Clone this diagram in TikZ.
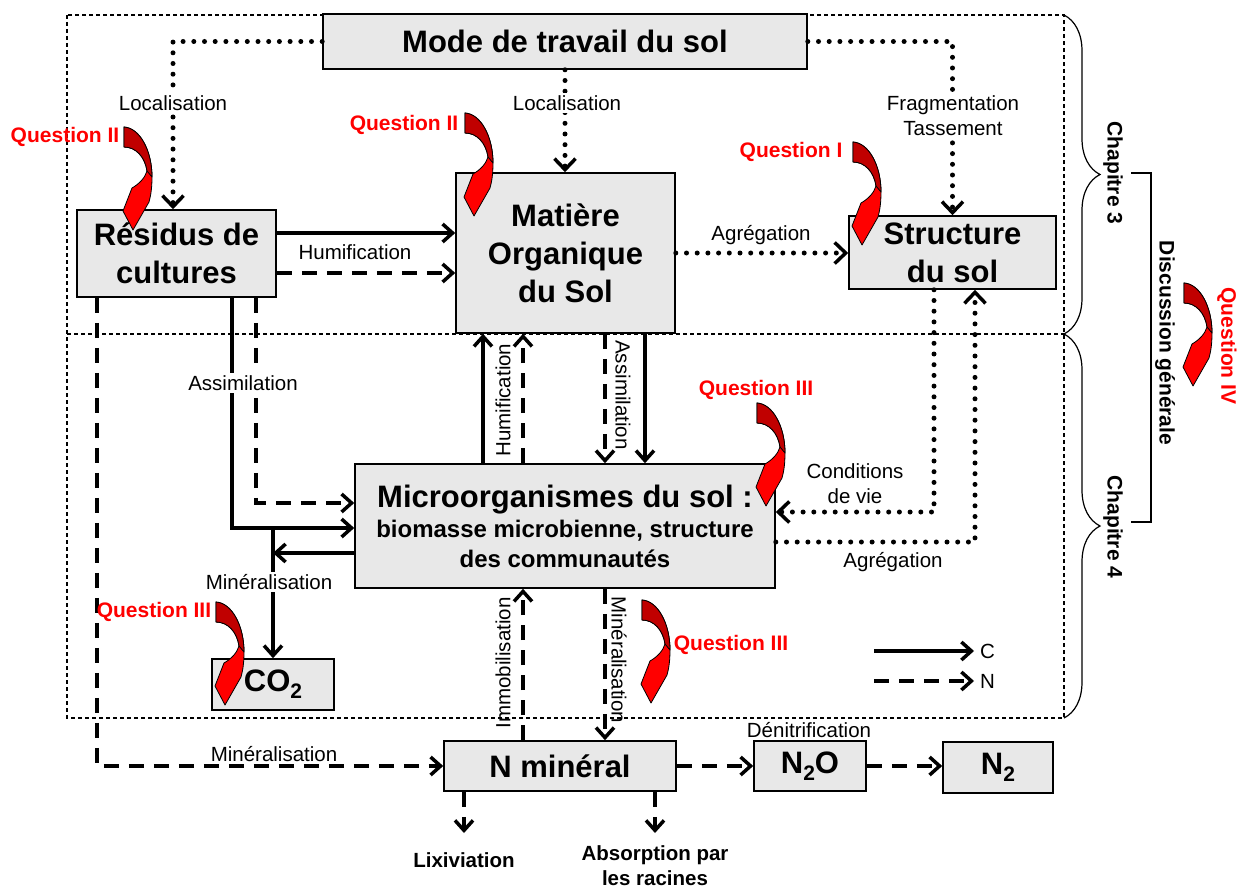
\documentclass[tikz,border=0pt]{standalone}
\usepackage{fontspec}
\setmainfont{Liberation Sans}
\usetikzlibrary{arrows.meta,decorations.pathreplacing}
\definecolor{boxgray}{RGB}{232,232,232}
\definecolor{qdark}{RGB}{192,0,0}
\definecolor{qbright}{RGB}{255,0,0}

\tikzset{
  every node/.style={inner sep=0pt},
  box/.style={draw=black, line width=1.6pt, fill=boxgray, align=center,
              font=\bfseries\fontsize{31}{38}\selectfont},
  barb/.tip={Straight Barb[length=10pt,width=18pt,line width=3.5pt]},
  dbarb/.tip={Straight Barb[length=11pt,width=21pt,line width=3.5pt]},
  cflow/.style={line width=3.5pt, -barb},
  nflow/.style={line width=3.5pt, dash pattern=on 15pt off 10pt, -barb},
  dflow/.style={line width=5pt, line cap=round, dash pattern=on 0pt off 10.7pt, -dbarb},
  lbl/.style={font=\fontsize{20.5}{25}\selectfont, align=center},
  blbl/.style={font=\bfseries\fontsize{20.5}{25}\selectfont, align=center},
  qlbl/.style={font=\bfseries\fontsize{21}{25}\selectfont, text=qbright},
  frame/.style={line width=1.2pt, dash pattern=on 4pt off 3pt},
  chap/.style={font=\bfseries\fontsize{21}{25}\selectfont},
  % curved red arrow marking a research question
  qarrow/.pic={
    \path[fill=qbright, draw=black, line width=0.8pt, line join=round]
      (0,0) .. controls (16,1) and (28,24) .. (28,50)
      .. controls (28,60) and (27,68) .. (25,75)
      -- (9,103) -- (-1,84) -- (8,61)
      .. controls (15,57) and (21,51) .. (23,44)
      .. controls (21,30) and (12,20) .. (0,20) -- cycle;
    \path[fill=qdark, draw=black, line width=0.8pt, line join=round]
      (0,0) .. controls (16,1) and (28,24) .. (28,50)
      -- (23,44)
      .. controls (21,30) and (12,20) .. (0,20) -- cycle;
  },
}

\begin{document}
\begin{tikzpicture}[x=1pt,y=-1pt]
\useasboundingbox (0,0) rectangle (1250,888);

% chapter frames
\draw[frame] (67,15) rectangle (1064,718);
\draw[frame] (67,334) -- (1064,334);

% boxes
\node[box, minimum width=484pt, minimum height=55pt] (mode) at (565,41.5) {Mode de travail du sol};
\node[box, minimum width=199pt, minimum height=87pt] (res) at (176.5,253.5) {Résidus de\\cultures};
\node[box, minimum width=219pt, minimum height=160pt] (mos) at (565.5,253) {Matière\\Organique\\du Sol};
\node[box, minimum width=207pt, minimum height=73pt] (struct) at (952.5,252.5) {Structure\\du sol};
\node[box, minimum width=420pt, minimum height=124pt, font=\bfseries\fontsize{24}{30}\selectfont] (micro) at (565,526)
  {{\fontsize{31}{30}\selectfont Microorganismes du sol :}\\biomasse microbienne, structure\\des communautés};
\node[box, minimum width=122pt, minimum height=51pt] (co2) at (273,684.5) {CO\raisebox{-7pt}{\fontsize{21}{21}\selectfont 2}};
\node[box, minimum width=232pt, minimum height=50pt] (nmin) at (560,766) {N minéral};
\node[box, minimum width=112pt, minimum height=50pt] (n2o) at (810,766) {N\raisebox{-7pt}{\fontsize{21}{21}\selectfont 2}O};
\node[box, minimum width=110pt, minimum height=51pt] (n2) at (998,767.5) {N\raisebox{-7pt}{\fontsize{21}{21}\selectfont 2}};

% tillage effects
\draw[dflow] (mode.west) -| ([xshift=-3.5pt]res.north);
\draw[dflow] (mode.south) -- (mode.south |- mos.north);
\draw[dflow] (mode.east) -| (struct.north);
\node[lbl, fill=white, inner sep=2pt] (loc1) at (173,103) {Localisation};
\node[lbl, fill=white, inner sep=2pt] (loc2) at (567,103) {Localisation};
\node[lbl, fill=white, inner sep=2pt] (frag) at (953,116) {Fragmentation\\Tassement};

% residues to soil organic matter
\draw[cflow] (res.east |- 0,233) -- (mos.west |- 0,233);
\draw[nflow] (res.east |- 0,273) -- (mos.west |- 0,273);
\node[lbl] (hum1) at (355,252) {Humification};
\draw[dflow] (mos.east |- 0,253) -- (struct.west |- 0,253);
\node[lbl] (agr1) at (761,235) {Agrégation};

% residues to microorganisms
\draw[cflow] (res.south -| 232,0) |- (micro.west |- 0,528);
\draw[nflow] (res.south -| 256,0) |- (micro.west |- 0,503);
\node[lbl, fill=white, inner sep=2pt] (ass1) at (243,383) {Assimilation};
\draw[nflow] (res.south -| 97,0) |- (nmin.west);
\node[lbl] (min3) at (274,754) {Minéralisation};

% microorganisms to CO2
\draw[cflow] (micro.west |- 0,553) -- (co2.north |- 0,553);
\draw[cflow] (co2.north |- 0,528) -- (co2.north);
\node[lbl, fill=white, inner sep=2pt] (min1) at (269,582) {Minéralisation};

% organic matter <-> microorganisms
\draw[cflow] (micro.north -| 483,0) -- (mos.south -| 483,0);
\draw[nflow] (micro.north -| 523,0) -- (mos.south -| 523,0);
\draw[nflow] (mos.south -| 605,0) -- (micro.north -| 605,0);
\draw[cflow] (mos.south -| 645,0) -- (micro.north -| 645,0);
\node[lbl, rotate=90] (hum2) at (503,400) {Humification};
\node[lbl, rotate=-90] (ass2) at (623,395) {Assimilation};

% microorganisms <-> mineral N
\draw[nflow] (nmin.north -| 523,0) -- (micro.south -| 523,0);
\draw[nflow] (micro.south -| 605,0) -- (nmin.north -| 605,0);
\node[lbl, rotate=90] (immo) at (503,663) {Immobilisation};
\node[lbl, rotate=-90] (min2) at (619,660) {Minéralisation};

% structure <-> microorganisms
\draw[dflow] (struct.south -| 934,0) |- (micro.east |- 0,512);
\draw[dflow] (micro.east |- 0,542) -| (struct.south -| 975,0);
\node[lbl] (cond) at (855,484) {Conditions\\de vie};
\node[lbl] (agr2) at (893,562) {Agrégation};

% nitrogen losses
\draw[nflow] (nmin.east) -- (n2o.west);
\draw[nflow] (n2o.east) -- (n2.west |- n2o.east);
\node[lbl] (deni) at (809,730) {Dénitrification};
\coordinate (lixend) at (464,833);
\coordinate (absend) at (655,833);
\draw[nflow] (nmin.south -| lixend) -- (lixend);
\draw[nflow] (nmin.south -| absend) -- (absend);
\node[blbl] (lix) at (464,860) {Lixiviation};
\node[blbl] (abs) at (655,866) {Absorption par\\les racines};

% legend
\node[lbl, anchor=west] (legc) at (980,651) {C};
\node[lbl, anchor=west] (legn) at (980,681) {N};
\coordinate (lc0) at (874,651);
\coordinate (ln0) at (874,681);
\draw[cflow, shorten >=6pt] (lc0) -- (legc.west);
\draw[nflow, shorten >=6pt] (ln0) -- (legn.west);

% chapters
\draw[line width=1.2pt, decorate, decoration={brace, amplitude=36pt}] (1064,15) -- (1064,334);
\draw[line width=1.2pt, decorate, decoration={brace, amplitude=36pt}] (1064,334) -- (1064,718);
\node[chap, rotate=-90] (ch3) at (1113,173) {Chapitre 3};
\node[chap, rotate=-90] (ch4) at (1113,527) {Chapitre 4};
\draw[line width=1.2pt] (1131,173) -- (1151,173) -- (1151,522) -- (1131,522);
\node[chap, rotate=-90] (disc) at (1165,343) {Discussion générale};

% research questions
\node[qlbl] (q2a) at (65,137) {Question II};
\node[qlbl] (q2b) at (404,125) {Question II};
\node[qlbl] (q1) at (791,152) {Question I};
\node[qlbl] (q3a) at (756,390) {Question III};
\node[qlbl] (q3b) at (154,612) {Question III};
\node[qlbl] (q3c) at (731,645) {Question III};
\node[qlbl, rotate=-90] (q4) at (1227,346) {Question IV};
\pic at (124,127) {qarrow};
\pic at (465,113) {qarrow};
\pic at (853,142) {qarrow};
\pic at (757,403) {qarrow};
\pic at (216,602) {qarrow};
\pic at (642,600) {qarrow};
\pic at (1184,283) {qarrow};
\end{tikzpicture}
\end{document}
